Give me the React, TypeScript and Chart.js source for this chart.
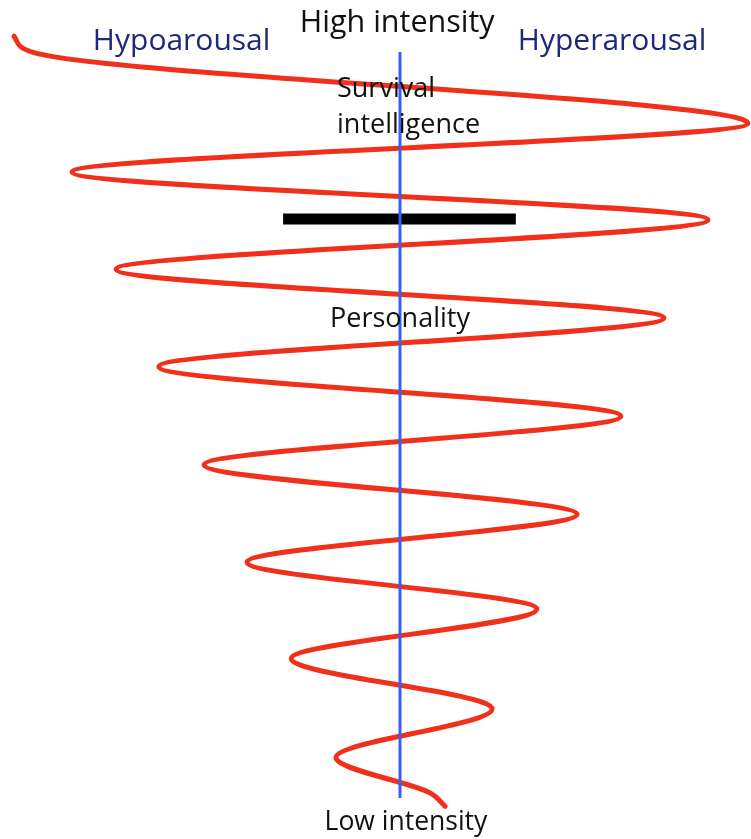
import React, { useEffect, useRef } from "react";
import { Chart, registerables } from "chart.js";

Chart.register(...registerables);

// Spiral (red) path, turning points:
// arousal (x: negative = hypo, positive = hyper) vs intensity (y)
const spiralArousal = [
  -110.3, -104.3, 99.4, -93.7, 88.0, -81.1, 75.4, -68.9, 63.1,
  -56.0, 50.6, -43.7, 39.1, -31.1, 26.3, -18.3, 8.6, 12.9,
];
const spiralIntensity = [
  95.7, 93.7, 85.3, 79.5, 73.8, 67.9, 62.1, 56.3, 50.4,
  44.6, 38.7, 33.0, 27.4, 21.5, 15.5, 9.7, 5.5, 3.9,
];

// Vertical intensity axis (blue)
const axisArousal = [0, 0];
const axisIntensity = [93.8, 4.9];

// Threshold bar (black)
const barArousal = [-33.4, 33.1];
const barIntensity = [73.9, 73.9];

// Labels
const labelTexts = ["High intensity", "Hypoarousal", "Hyperarousal", "Survival", "intelligence", "Personality", "Low intensity"];
const labelArousal = [-0.8, -62.4, 60.6, -18.0, -18.0, 0, 1.7];
const labelIntensity = [96.2, 94.0, 94.0, 88.4, 84.1, 61.0, 1.1];
const labelAlign = ["center", "center", "center", "left", "left", "center", "center"];
const labelColors = ["#111111", "#1c2a78", "#1c2a78", "#111111", "#111111", "#111111", "#111111"];
const labelSizes = [30.5, 30, 30, 27, 27, 27, 26.5];

const toPoints = (xs: number[], ys: number[]) => xs.map((x, i) => ({ x, y: ys[i] }));

const labelPlugin = {
  id: "labels",
  afterDatasetsDraw(chart: any) {
    const { ctx, scales } = chart;
    ctx.save();
    ctx.textBaseline = "alphabetic";
    labelTexts.forEach((t, i) => {
      ctx.font = `${labelSizes[i]}px "Open Sans", sans-serif`;
      ctx.fillStyle = labelColors[i];
      ctx.textAlign = labelAlign[i] as CanvasTextAlign;
      ctx.fillText(t, scales.x.getPixelForValue(labelArousal[i]), scales.y.getPixelForValue(labelIntensity[i]));
    });
    ctx.restore();
  },
};

export default function App() {
  const ref = useRef<HTMLCanvasElement | null>(null);
  useEffect(() => {
    if (!ref.current) return;
    const chart = new Chart(ref.current, {
      type: "line",
      data: {
        datasets: [
          {
            data: toPoints(axisArousal, axisIntensity),
            borderColor: "#3a5ef0",
            borderWidth: 3,
            pointRadius: 0,
            tension: 0,
            order: 0,
          },
          {
            data: toPoints(barArousal, barIntensity),
            borderColor: "#000000",
            borderWidth: 11,
            borderCapStyle: "butt",
            pointRadius: 0,
            tension: 0,
            order: 1,
          },
          {
            data: toPoints(spiralArousal, spiralIntensity),
            borderColor: "#f0301a",
            borderWidth: 5,
            borderCapStyle: "round",
            borderJoinStyle: "round",
            cubicInterpolationMode: "monotone",
            pointRadius: 0,
            order: 2,
          },
        ],
      } as any,
      options: {
        indexAxis: "y",
        responsive: false,
        animation: false,
        devicePixelRatio: 1,
        layout: { padding: 0 },
        plugins: { legend: { display: false }, tooltip: { enabled: false } },
        events: [],
        scales: {
          x: { type: "linear", min: -114.29, max: 100.29, display: false },
          y: { type: "linear", min: 0, max: 100, display: false },
        },
      } as any,
      plugins: [labelPlugin],
    });
    return () => chart.destroy();
  }, []);
  return (
    <div style={{ position: "fixed", left: 0, top: 0, width: 751, height: 839, background: "#ffffff" }}>
      <canvas ref={ref} width={751} height={839} style={{ display: "block" }} />
    </div>
  );
}
